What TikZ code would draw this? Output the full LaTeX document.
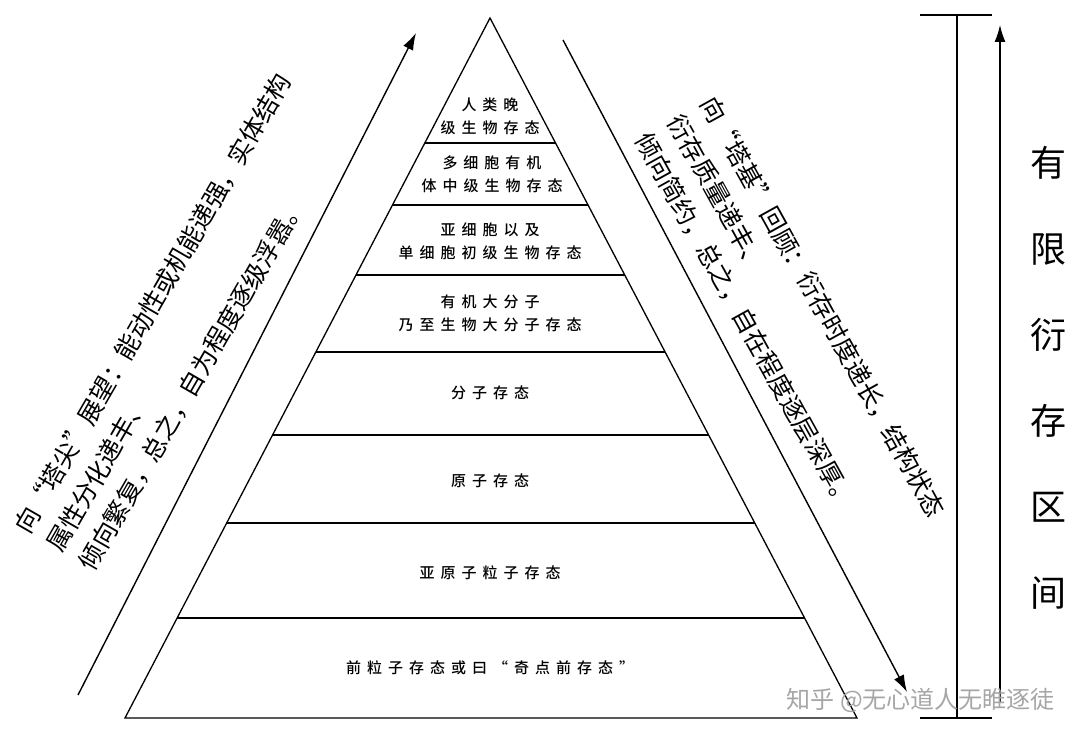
\documentclass[tikz,border=0pt]{standalone}
\usepackage{fontspec}
\newfontfamily\cjk{Noto Sans CJK SC}
\newfontfamily\cjksp[LetterSpace=40]{Noto Sans CJK SC Medium}
\usetikzlibrary{arrows.meta,calc}
\begin{document}
\begin{tikzpicture}[x=1pt,y=-1pt,
  tier/.style={font=\cjksp\fontsize{15}{23}\selectfont,align=center,inner sep=0pt},
  side/.style={font=\cjk\fontsize{25}{37}\selectfont,align=left,inner sep=0pt},
  ln/.style={line width=1.3pt},
  arr/.style={line width=1.4pt,-{Latex[length=17pt,width=11pt]}}]
\useasboundingbox (0,0) rectangle (1080,746);
\coordinate (A) at (490,18);
\coordinate (BL) at (125,718);
\coordinate (BR) at (857,718);
\draw[ln] (BL) -- (A) -- (BR) -- cycle;
\foreach \y in {143,205,275,352,435,523,618}{
  \draw[ln] ($(A)!{(\y-18)/700}!(BL)$) -- ($(A)!{(\y-18)/700}!(BR)$);
}
\node[tier] (t1) at (490,116) {人类晚\\级生物存态};
\node[tier] (t2) at (492,174) {多细胞有机\\体中级生物存态};
\node[tier] (t3) at (490,241) {亚细胞以及\\单细胞初级生物存态};
\node[tier] (t4) at (490,313) {有机大分子\\乃至生物大分子存态};
\node[tier] (t5) at (490,393) {分子存态};
\node[tier] (t6) at (490,481) {原子存态};
\node[tier] (t7) at (490,573) {亚原子粒子存态};
\node[tier] (t8) at (490,668) {前粒子存态或曰“奇点前存态”};
\coordinate (la0) at (78,695); \coordinate (la1) at (416,33);
\draw[arr] (la0) -- (la1);
\coordinate (ra0) at (563,40); \coordinate (ra1) at (907,692);
\draw[arr] (ra0) -- (ra1);
\node[side,rotate=60] (lt) at (185,322) {向“塔尖”展望：能动性或机能递强，实体结构\\属性分化递丰、\\倾向繁复，总之，自为程度逐级浮嚣。};
\node[side,rotate=-61] (rt) at (790,325) {向“塔基”回顾：衍存时度递长，结构状态\\衍存质量递丰、\\倾向简约，总之，自在程度逐层深厚。};
\coordinate (v0) at (957,15); \coordinate (v1) at (957,718);
\draw[ln] (v0) -- (v1);
\draw[ln] (920,15) -- (992,15);
\draw[ln] (920,718) -- (992,718);
\coordinate (u0) at (1000,702); \coordinate (u1) at (1000,25);
\draw[arr] (u0) -- (u1);
\node[font=\cjk\fontsize{36}{86}\selectfont,align=center,inner sep=0pt] (lab) at (1048,378) {有\\限\\衍\\存\\区\\间};
\node[font=\cjk\fontsize{24}{24}\selectfont,text=black!35,inner sep=0pt,anchor=east] (wm) at (1055,700) {知乎 @无心道人无睢逐徒};
\end{tikzpicture}
\end{document}
